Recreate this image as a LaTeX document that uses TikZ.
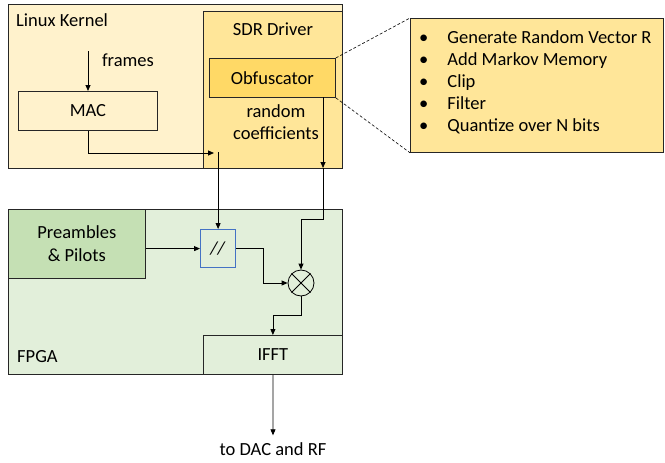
\documentclass[tikz,border=0pt]{standalone}
\usepackage{fontspec}
\setmainfont{Carlito}
\usetikzlibrary{
  arrows.meta,
  calc,
  positioning
}
\definecolor{kernelfill}{HTML}{FFF2CC}
\definecolor{driverfill}{HTML}{FFE699}
\definecolor{obffill}{HTML}{FFD966}
\definecolor{fpgafill}{HTML}{E2EFDA}
\definecolor{prefill}{HTML}{C5E0B4}
\definecolor{parline}{HTML}{4472C4}
\tikzset{
  % For all boxes, placed by their top left corner.
  block/.style={
    draw=black!85,
    line width=0.8pt,
    inner sep=0pt,
    anchor=north west},
%
  % For box captions.
  caption/.style={
    inner sep=0pt,
    font=\fontsize{18.5pt}{21pt}\selectfont},
%
  % For signal lines with one arrow.
  signal/.style={
    line width=0.8pt,
    -{Triangle[length=6pt,width=5pt]}},
%
  % For the zoom lines to the callout.
  zoom line/.style={
    line width=0.6pt,
    dash pattern=on 3pt off 2pt}
}
\begin{document}
\begin{tikzpicture}[x=1pt, y=-1pt]
  \useasboundingbox (0,0) rectangle (665,463);

  % Host side.
  \node[block, fill=kernelfill, minimum width=334pt, minimum height=164pt]
    (kernel) at (8,4) {};
  \node[caption, anchor=west] (kernellabel) at (16,20) {Linux Kernel};
  \node[block, fill=driverfill, minimum width=139pt, minimum height=157pt]
    (driver) at (203,11) {};
  \node[caption] (driverlabel) at (273,29) {SDR Driver};
  \node[block, fill=obffill, minimum width=126pt, minimum height=39pt,
    caption] (obf) at (209,58) {Obfuscator};
  \node[block, fill=kernelfill, minimum width=139pt, minimum height=39pt,
    caption] (mac) at (18,91) {MAC};
  \coordinate (framesin) at (88,51);
  \node[caption] (frameslabel) at (128,60) {frames};
  \node[caption, align=center, font=\fontsize{18.5pt}{22pt}\selectfont]
    (coeflabel) at (276,122) {random\\coefficients};

  % Callout with the obfuscator steps.
  \node[block, fill=driverfill, minimum width=253pt, minimum height=134pt]
    (callout) at (410,18) {};
  \node[caption, anchor=north west, align=left,
    font=\fontsize{18.5pt}{22pt}\selectfont] (steps) at (419,30)
    {\textbullet\hspace{19pt}Generate Random Vector R\\
     \textbullet\hspace{19pt}Add Markov Memory\\
     \textbullet\hspace{19pt}Clip\\
     \textbullet\hspace{19pt}Filter\\
     \textbullet\hspace{19pt}Quantize over N bits};
  \draw[zoom line] (obf.north east) -- (callout.north west);
  \draw[zoom line] (obf.south east) -- (callout.south west);

  % FPGA side.
  \node[block, fill=fpgafill, minimum width=334pt, minimum height=165pt]
    (fpga) at (8,209) {};
  \node[caption, anchor=west] (fpgalabel) at (17,357) {FPGA};
  \node[block, fill=prefill, minimum width=137pt, minimum height=69pt,
    caption, align=center, font=\fontsize{18.5pt}{23pt}\selectfont]
    (pre) at (8,209) {Preambles\\\& Pilots};
  \node[block, draw=parline, line width=1.2pt, fill=fpgafill,
    minimum width=35pt, minimum height=38pt, caption] (par) at (200,229)
    {\textit{//}};
  \node[circle, draw=black, line width=0.8pt, fill=fpgafill,
    minimum size=26pt, inner sep=0pt] (mult) at (301,283) {};
  \draw[line width=0.8pt] (mult.45) -- (mult.225) (mult.135) -- (mult.315);
  \node[block, fill=fpgafill, minimum width=139pt, minimum height=39pt,
    caption] (ifft) at (203,335) {IFFT};
  \node[caption, inner sep=7pt] (dac) at (273,449) {to DAC and RF};

  % Signal paths.
  \draw[signal] (framesin) -- (mac.north -| framesin);
  \coordinate (mactap) at (214,153);
  \draw[signal] (mac.south -| framesin) |- (mactap);
  \draw[signal] (mactap -| par.north) ++(0,-1) -- (par.north);
  \coordinate (coefout) at (323,97);
  \coordinate (coefin) at (323,168);
  \draw[signal] (coefout) -- (coefin);
  \draw[signal] (coefin) -- (323,219) -| (mult.north);
  \draw[signal] (pre.east |- par.west) -- (par.west);
  \draw[signal] (par.east) -- ++(27,0) |- (mult.west);
  \draw[signal] (mult.south) -- ++(0,19) -| (ifft.north);
  \draw[signal] (ifft.south) -- (dac.north);
\end{tikzpicture}
\end{document}
